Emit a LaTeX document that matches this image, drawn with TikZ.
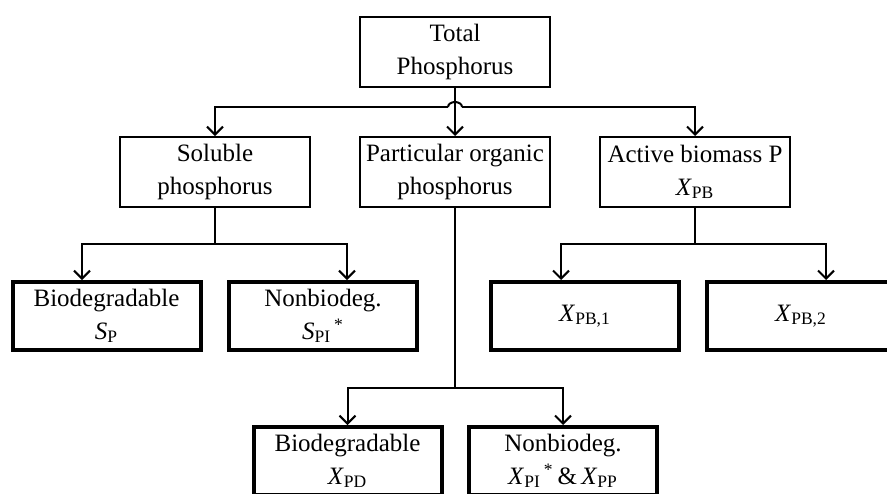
\documentclass[tikz,border=0pt]{standalone}
\usepackage{fontspec}
\setmainfont{Liberation Serif}
\usetikzlibrary{arrows.meta}
\begin{document}
\begin{tikzpicture}[x=0.5pt,y=-0.5pt,
  txt/.style={font=\fontsize{12.5}{16.5}\selectfont, align=center, inner sep=0pt},
  thinbox/.style={txt, draw, line width=1pt, minimum width=95pt, minimum height=35pt},
  thickbox/.style={txt, draw, line width=2pt, minimum width=94pt, minimum height=34pt},
  conn/.style={line width=1pt},
  arr/.style={conn, -{Straight Barb[length=4pt,width=8pt,line width=1pt]}}]
\useasboundingbox (0,0) rectangle (887,493);
\clip (0,0) rectangle (887,493);

% top level
\node[thinbox] (tot) at (455,52) {Total\\Phosphorus};

% second level
\node[thinbox] (sol) at (215,172) {Soluble\\phosphorus};
\node[thinbox] (par) at (455,172) {Particular organic\\phosphorus};
\node[thinbox] (act) at (695,172) {Active biomass P\\\textit{X}\textsubscript{PB}};

% third level
\node[thickbox] (sp)  at (106.5,316) {Biodegradable\\\textit{S}\textsubscript{P}};
\node[thickbox] (spi) at (323,316) {Nonbiodeg.\\\textit{S}\textsubscript{PI}\textsuperscript{\,*}};
\node[thickbox] (xb1) at (585,316) {\textit{X}\textsubscript{PB,1}};
\node[thickbox] (xb2) at (801,316) {\textit{X}\textsubscript{PB,2}};

% particulate branch
\node[thickbox] (xpd) at (347.5,461) {Biodegradable\\\textit{X}\textsubscript{PD}};
\node[thickbox] (xpp) at (563,461) {Nonbiodeg.\\\textit{X}\textsubscript{PI}\textsuperscript{\,*}\,\&\,\textit{X}\textsubscript{PP}};

% total -> second level (bus line hops over the centre branch)
\coordinate (bus) at (455,107);
\draw[arr] (tot.south) -- (par.north);
\draw[conn] (bus) ++(-7,0) coordinate (hopl)
  arc[start angle=180, end angle=360, x radius=7, y radius=5];
\draw[arr] (hopl) -| (sol.north);
\draw[arr] ([xshift=3.5pt]bus) -| (act.north);

% soluble -> third level
\draw[conn] (sol.south) -- ++(0,36) coordinate (sbus);
\draw[arr] (sbus) -| ([xshift=-12.25pt]sp.north);
\draw[arr] (sbus) -| ([xshift=12pt]spi.north);

% active biomass -> third level
\draw[conn] (act.south) -- ++(0,36) coordinate (abus);
\draw[arr] (abus) -| ([xshift=-12pt]xb1.north);
\draw[arr] (abus) -| ([xshift=12.5pt]xb2.north);

% particulate -> bottom level
\draw[conn] (par.south) -- (455,388) coordinate (pbus);
\draw[arr] (pbus) -| (xpd.north);
\draw[arr] (pbus) -| (xpp.north);
\end{tikzpicture}
\end{document}
